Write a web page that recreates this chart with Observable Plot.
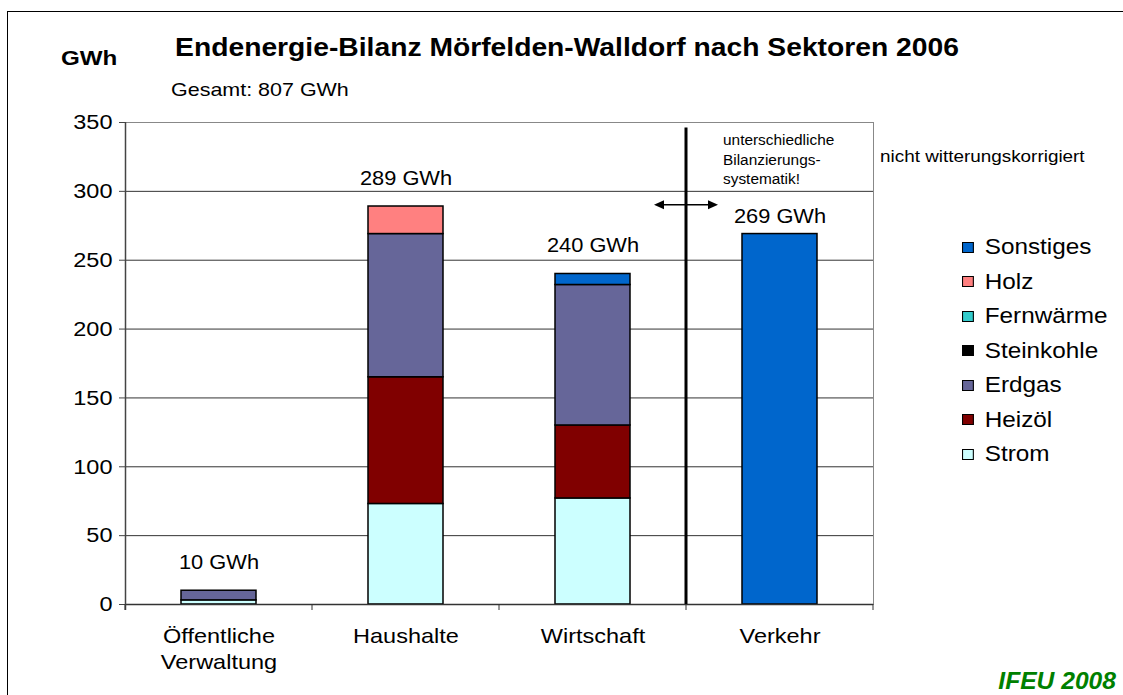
<!DOCTYPE html>
<html><head><meta charset="utf-8">
<script src="https://cdn.jsdelivr.net/npm/d3@7"></script>
<script src="https://cdn.jsdelivr.net/npm/@observablehq/plot@0.6"></script>
<style>
body{margin:0;background:#fff;font-family:"Liberation Sans",Arial,sans-serif;}
#wrap{position:relative;width:1123px;height:695px;overflow:hidden;}
#border{position:absolute;left:7px;top:11px;width:1200px;height:800px;border-left:1px solid #000;border-top:1px solid #000;}
#chart{position:absolute;left:0;top:0;}
.t{position:absolute;white-space:nowrap;line-height:1;color:#000;transform-origin:left center;}
#legend{position:absolute;left:962px;top:230px;transform:scaleX(1.08);transform-origin:left top;}
.li{display:flex;align-items:center;height:34.5px;font-size:22.5px;}
.sw{width:11px;height:11px;border:1px solid #000;margin-right:10px;box-sizing:border-box;}
</style></head><body>
<div id="wrap">
<div id="border"></div>
<div id="chart"></div>
<div class="t" id="title" style="left:0;width:1134px;text-align:center;top:35px;font-size:25px;font-weight:bold;transform:scaleX(1.13);transform-origin:567px center;"></div>
<div class="t" id="unit" style="left:61px;top:47px;font-size:21px;font-weight:bold;transform:scaleX(1.15);"></div>
<div class="t" id="gesamt" style="left:171px;top:80px;font-size:19px;transform:scaleX(1.13);"></div>
<div class="t" id="note" style="left:723px;top:131px;font-size:14px;line-height:19.5px;white-space:pre;transform:scaleX(1.1);transform-origin:left top;"></div>
<div class="t" id="wetter" style="left:880px;top:149px;font-size:16px;transform:scaleX(1.18);"></div>
<div id="legend"></div>
<div class="t" id="quelle" style="right:7px;top:670px;font-size:23px;font-weight:bold;font-style:italic;color:#008000;transform:scaleX(1.07);transform-origin:right center;"></div>
</div>
<script>
const titel = "Endenergie-Bilanz Mörfelden-Walldorf nach Sektoren 2006";
const einheit = "GWh";
const gesamtText = "Gesamt: 807 GWh";
const hinweis = "unterschiedliche\nBilanzierungs-\nsystematik!";
const wetterText = "nicht witterungskorrigiert";
const quelleText = "IFEU 2008";

const sektoren = ["Öffentliche Verwaltung", "Haushalte", "Wirtschaft", "Verkehr"];
const quellen = ["Strom", "Heizöl", "Erdgas", "Steinkohle", "Fernwärme", "Holz", "Sonstiges"];
const farben = ["#CCFFFF", "#800000", "#666699", "#000000", "#33CCCC", "#FF8080", "#0066CC"];
const strom = [3, 73, 77, 0];
const heizoel = [0, 92, 53, 0];
const erdgas = [7, 104, 102, 0];
const steinkohle = [0, 0, 0, 0];
const fernwaerme = [0, 0, 0, 0];
const holz = [0, 20, 0, 0];
const sonstiges = [0, 0, 8, 269];
const summenLabels = ["10 GWh", "289 GWh", "240 GWh", "269 GWh"];
const yTicks = [0, 50, 100, 150, 200, 250, 300, 350];
const legendeReihenfolge = ["Sonstiges", "Holz", "Fernwärme", "Steinkohle", "Erdgas", "Heizöl", "Strom"];

const serien = [strom, heizoel, erdgas, steinkohle, fernwaerme, holz, sonstiges];
const rows = [];
quellen.forEach((q, qi) => serien[qi].forEach((v, si) => {
  if (v > 0) rows.push({sektor: sektoren[si], quelle: q, wert: v});
}));
const totals = sektoren.map((s, i) => ({sektor: s, total: d3.sum(serien, a => a[i]), label: summenLabels[i]}));

document.getElementById("title").textContent = titel;
document.getElementById("unit").textContent = einheit;
document.getElementById("gesamt").textContent = gesamtText;
document.getElementById("note").textContent = hinweis;
document.getElementById("wetter").textContent = wetterText;
document.getElementById("quelle").textContent = quelleText;
const leg = document.getElementById("legend");
legendeReihenfolge.forEach(q => {
  const d = document.createElement("div"); d.className = "li";
  const s = document.createElement("div"); s.className = "sw"; s.style.background = farben[quellen.indexOf(q)];
  d.appendChild(s); d.appendChild(document.createTextNode(q)); leg.appendChild(d);
});

function extras(index, scales, values, dim) {
  const x = scales.x, y = scales.y, bw = x.bandwidth();
  const ns = "http://www.w3.org/2000/svg";
  const g = document.createElementNS(ns, "g");
  const add = (tag, attrs) => { const e = document.createElementNS(ns, tag); for (const k in attrs) e.setAttribute(k, attrs[k]); g.appendChild(e); return e; };
  const left = dim.marginLeft, right = dim.width - dim.marginRight, bottom = dim.height - dim.marginBottom;
  add("line", {x1: left + 0.5, x2: left + 0.5, y1: y(350), y2: bottom + 6, stroke: "#444", "stroke-width": 1.5});
  const bounds = [left];
  for (let i = 1; i < sektoren.length; i++) bounds.push((x(sektoren[i - 1]) + bw + x(sektoren[i])) / 2);
  bounds.push(right);
  bounds.forEach(b => add("line", {x1: b, x2: b, y1: bottom, y2: bottom + 6, stroke: "#333"}));
  const sep = (x("Wirtschaft") + bw + x("Verkehr")) / 2;
  add("line", {x1: sep, x2: sep, y1: y(346), y2: bottom, stroke: "#000", "stroke-width": 3});
  const ay = y(290);
  add("line", {x1: sep - 24, x2: sep + 24, y1: ay, y2: ay, stroke: "#000", "stroke-width": 1.5});
  add("polygon", {points: `${sep - 32},${ay} ${sep - 22},${ay - 4.5} ${sep - 22},${ay + 4.5}`, fill: "#000"});
  add("polygon", {points: `${sep + 32},${ay} ${sep + 22},${ay - 4.5} ${sep + 22},${ay + 4.5}`, fill: "#000"});
  return g;
}

const chart = Plot.plot({
  width: 1123, height: 695,
  marginLeft: 125, marginRight: 250, marginTop: 122, marginBottom: 91,
  style: {fontFamily: "'Liberation Sans', Arial, sans-serif", fontSize: "22px", color: "#000", background: "transparent", overflow: "visible"},
  x: {domain: sektoren, paddingInner: 0.6, paddingOuter: 0.3},
  y: {domain: [0, 350]},
  color: {domain: quellen, range: farben},
  marks: [
    Plot.ruleY(yTicks.filter(t => t > 0), {stroke: "#333", strokeWidth: 1}),
    Plot.frame({stroke: "#888"}),
    Plot.barY(rows, {x: "sektor", y: "wert", fill: "quelle", order: quellen, stroke: "#000", strokeWidth: 1.5}),
    Plot.ruleY([0], {stroke: "#333", strokeWidth: 1.5}),
    Plot.axisY({ticks: yTicks, tickSize: 6, tickPadding: 7, label: null, fontSize: 21, stroke: "#444"}),
    Plot.axisX({tickSize: 0, tickPadding: 21, label: null, fontSize: 21, lineHeight: 1.2, tickFormat: d => d.replace(" ", "\n")}),
    Plot.text(totals, {x: "sektor", y: "total", text: "label", dy: -28, fontSize: 19.5, filter: d => d.sektor !== "Verkehr"}),
    Plot.text(totals, {x: "sektor", y: "total", text: "label", dy: -17, fontSize: 19.5, filter: d => d.sektor === "Verkehr"}),
    extras
  ]
});
document.getElementById("chart").appendChild(chart);
// slight horizontal widening of glyphs, as in the reference rendering
chart.querySelectorAll("text").forEach(t => {
  const x = +t.getAttribute("x") || 0, y = +t.getAttribute("y") || 0;
  let tr = t.getAttribute("transform") || "";
  if (x || y) { tr = `translate(${x},${y}) ` + tr; t.removeAttribute("x"); t.removeAttribute("y"); }
  t.setAttribute("transform", tr + " scale(1.12,1)");
});
</script>
</body></html>
